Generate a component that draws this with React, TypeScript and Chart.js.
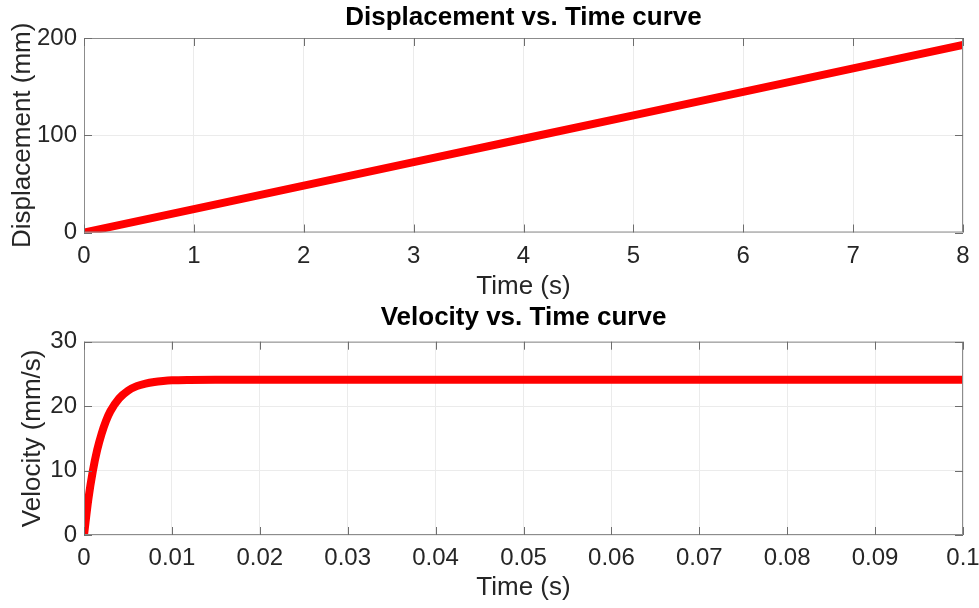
import React, { useEffect, useRef } from "react";
import { Chart, registerables } from "chart.js";

Chart.register(...registerables);

// Displacement vs. Time
const dispTime: number[] = [0, 1, 2, 3, 4, 5, 6, 7, 8];
const dispValues: number[] = [0, 24.1, 48.2, 72.3, 96.4, 120.5, 144.6, 168.7, 192.8];
const dispXTicks: number[] = [0, 1, 2, 3, 4, 5, 6, 7, 8];
const dispYTicks: number[] = [0, 100, 200];

// Velocity vs. Time
const velTime: number[] = [
  0, 0.0005, 0.001, 0.0015, 0.002, 0.0025, 0.003, 0.004, 0.005, 0.006, 0.007,
  0.008, 0.009, 0.01, 0.012, 0.015, 0.02, 0.03, 0.04, 0.05, 0.06, 0.07, 0.08,
  0.09, 0.1,
];
const velValues: number[] = [
  0, 5.6, 9.9, 13.2, 15.7, 17.7, 19.2, 21.2, 22.4, 23.1, 23.5, 23.75, 23.9,
  24.0, 24.07, 24.1, 24.1, 24.1, 24.1, 24.1, 24.1, 24.1, 24.1, 24.1, 24.1,
];
const velXTicks: number[] = [0, 0.01, 0.02, 0.03, 0.04, 0.05, 0.06, 0.07, 0.08, 0.09, 0.1];
const velYTicks: number[] = [0, 10, 20, 30];

const FONT = "'Liberation Sans', Arial, Helvetica, sans-serif";
const TEXT = "#262626";

const boxPlugin = {
  id: "matlabBox",
  afterDatasetsDraw(chart: any) {
    const { ctx, chartArea: a, scales } = chart;
    ctx.save();
    ctx.strokeStyle = "#8c8c8c";
    ctx.lineWidth = 1;
    ctx.strokeRect(a.left + 0.5, a.top + 0.5, a.right - a.left - 1, a.bottom - a.top - 1);
    ctx.strokeStyle = "#6e6e6e";
    const L = 8;
    ctx.beginPath();
    scales.x.ticks.forEach((t: any) => {
      const px = Math.round(scales.x.getPixelForValue(t.value)) + 0.5;
      ctx.moveTo(px, a.bottom);
      ctx.lineTo(px, a.bottom - L);
      ctx.moveTo(px, a.top);
      ctx.lineTo(px, a.top + L);
    });
    scales.y.ticks.forEach((t: any) => {
      const py = Math.round(scales.y.getPixelForValue(t.value)) + 0.5;
      ctx.moveTo(a.left, py);
      ctx.lineTo(a.left + L, py);
      ctx.moveTo(a.right, py);
      ctx.lineTo(a.right - L, py);
    });
    ctx.stroke();
    ctx.restore();
  },
};

type Cfg = {
  title: string;
  yTitle: string;
  xs: number[];
  ys: number[];
  xTicks: number[];
  yTicks: number[];
  xMax: number;
  yMax: number;
  titlePad: { top: number; bottom: number };
  xAxisHeight: number;
  xTickPad: number;
  xTitlePadBottom: number;
  yTitlePadTop: number;
  smooth: boolean;
};

function makeChart(canvas: HTMLCanvasElement, c: Cfg) {
  return new Chart(canvas, {
    type: "line",
    data: {
      datasets: [
        {
          data: c.xs.map((x, i) => ({ x, y: c.ys[i] })),
          borderColor: "#ff0000",
          borderWidth: 8,
          pointRadius: 0,
          fill: false,
          cubicInterpolationMode: c.smooth ? "monotone" : "default",
          tension: 0,
        },
      ],
    },
    plugins: [boxPlugin],
    options: {
      animation: false,
      responsive: false,
      maintainAspectRatio: false,
      layout: { padding: { left: 0, right: 16, top: 0, bottom: 0 } },
      plugins: {
        legend: { display: false },
        tooltip: { enabled: false },
        title: {
          display: true,
          text: c.title,
          fullSize: false,
          color: "#000000",
          font: { family: FONT, size: 26, weight: "bold", lineHeight: 1 },
          padding: c.titlePad,
        },
      },
      scales: {
        x: {
          type: "linear",
          min: 0,
          max: c.xMax,
          afterBuildTicks: (s: any) => {
            s.ticks = c.xTicks.map((v) => ({ value: v }));
          },
          afterFit: (s: any) => {
            s.height = c.xAxisHeight;
            s.paddingLeft = 0;
            s.paddingRight = 0;
          },
          ticks: {
            color: TEXT,
            padding: c.xTickPad,
            font: { family: FONT, size: 24, lineHeight: 1.2 },
            maxRotation: 0,
            callback: (v: any) => String(v),
          },
          grid: { color: "#ebebeb", lineWidth: 1, drawTicks: false },
          border: { display: false },
          title: {
            display: true,
            text: "Time (s)",
            color: TEXT,
            font: { family: FONT, size: 26, lineHeight: 1 },
            padding: { top: 0, bottom: c.xTitlePadBottom },
          },
        },
        y: {
          type: "linear",
          min: 0,
          max: c.yMax,
          afterBuildTicks: (s: any) => {
            s.ticks = c.yTicks.map((v) => ({ value: v }));
          },
          afterFit: (s: any) => {
            s.width = 84;
            s.paddingTop = 0;
            s.paddingBottom = 0;
          },
          ticks: {
            color: TEXT,
            padding: 7,
            font: { family: FONT, size: 24, lineHeight: 1.2 },
            callback: (v: any) => String(v),
          },
          grid: { color: "#ebebeb", lineWidth: 1, drawTicks: false },
          border: { display: false },
          title: {
            display: true,
            text: c.yTitle,
            color: TEXT,
            font: { family: FONT, size: 26, lineHeight: 1 },
            padding: { top: c.yTitlePadTop, bottom: 0 },
          },
        },
      },
    } as any,
  });
}

export default function App() {
  const topRef = useRef<HTMLCanvasElement>(null);
  const botRef = useRef<HTMLCanvasElement>(null);

  useEffect(() => {
    const c1 = makeChart(topRef.current!, {
      title: "Displacement vs. Time curve",
      yTitle: "Displacement (mm)",
      xs: dispTime,
      ys: dispValues,
      xTicks: dispXTicks,
      yTicks: dispYTicks,
      xMax: 8,
      yMax: 200,
      titlePad: { top: 5, bottom: 7 },
      xAxisHeight: 67.5,
      xTickPad: 9.6,
      xTitlePadBottom: 0.5,
      yTitlePadTop: 9.5,
      smooth: false,
    });
    const c2 = makeChart(botRef.current!, {
      title: "Velocity vs. Time curve",
      yTitle: "Velocity (mm/s)",
      xs: velTime,
      ys: velValues,
      xTicks: velXTicks,
      yTicks: velYTicks,
      xMax: 0.1,
      yMax: 30,
      titlePad: { top: 5, bottom: 10.7 },
      xAxisHeight: 73,
      xTickPad: 8.6,
      xTitlePadBottom: 7,
      yTitlePadTop: 20,
      smooth: true,
    });
    return () => {
      c1.destroy();
      c2.destroy();
    };
  }, []);

  return (
    <div
      style={{
        position: "fixed",
        left: 0,
        top: 0,
        width: 979,
        height: 608,
        background: "#ffffff",
      }}
    >
      <canvas
        ref={topRef}
        width={979}
        height={300}
        style={{ position: "absolute", left: 0, top: 0, width: 979, height: 300 }}
      />
      <canvas
        ref={botRef}
        width={979}
        height={308}
        style={{ position: "absolute", left: 0, top: 300, width: 979, height: 308 }}
      />
    </div>
  );
}
